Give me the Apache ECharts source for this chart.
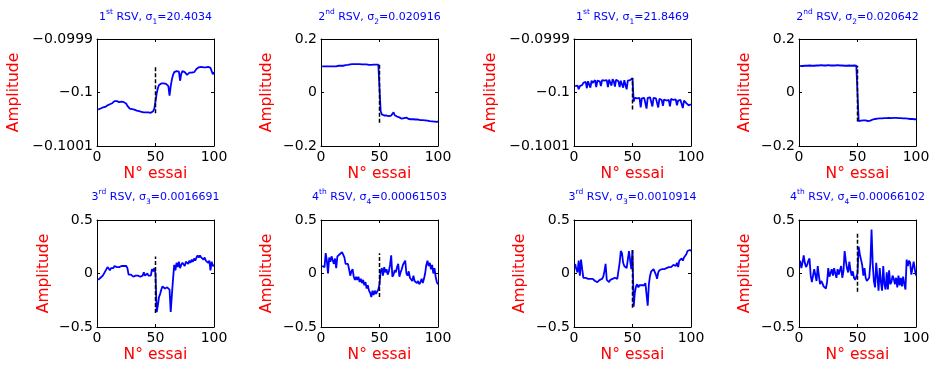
<!DOCTYPE html>
<html><head><meta charset="utf-8">
<script src="https://cdn.jsdelivr.net/npm/echarts@6/dist/echarts.min.js"></script>
<style>html,body{margin:0;padding:0;background:#fff}#c{width:933px;height:371px}</style>
</head><body><div id="c"></div>
<script>
// ---------- DATA ----------
const trials = Array.from({length: 100}, (_, i) => i + 1);
const xTickLabels = ['0', '50', '100'];

const rsv1a = [
-0.100032,-0.100031,-0.100030,-0.100029,-0.100028,-0.100027,-0.100027,-0.100025,-0.100024,-0.100025,
-0.100022,-0.100021,-0.100020,-0.100017,-0.100016,-0.100015,-0.100016,-0.100017,-0.100018,-0.100018,
-0.100017,-0.100019,-0.100018,-0.100019,-0.100021,-0.100025,-0.100028,-0.100030,-0.100030,-0.100031,
-0.100032,-0.100032,-0.100033,-0.100034,-0.100035,-0.100035,-0.100035,-0.100036,-0.100037,-0.100037,
-0.100039,-0.100037,-0.100038,-0.100037,-0.100037,-0.100038,-0.100037,-0.100035,-0.100030,-0.100029,
-0.100002,-0.099992,-0.099986,-0.099984,-0.099983,-0.099983,-0.099983,-0.099983,-0.099984,-0.099985,
-0.099988,-0.100006,-0.099988,-0.099976,-0.099967,-0.099962,-0.099961,-0.099960,-0.099960,-0.099961,
-0.099978,-0.099965,-0.099960,-0.099960,-0.099962,-0.099964,-0.099967,-0.099964,-0.099963,-0.099964,
-0.099963,-0.099961,-0.099962,-0.099959,-0.099956,-0.099954,-0.099953,-0.099952,-0.099952,-0.099952,
-0.099953,-0.099952,-0.099953,-0.099953,-0.099952,-0.099953,-0.099954,-0.099955,-0.099966,-0.099962];

const rsv2a = [
0.098,0.099,0.098,0.099,0.098,0.099,0.098,0.097,0.098,0.099,
0.098,0.099,0.098,0.099,0.100,0.099,0.100,0.101,0.100,0.101,
0.102,0.102,0.103,0.104,0.105,0.106,0.106,0.105,0.106,0.107,
0.106,0.105,0.106,0.105,0.105,0.104,0.105,0.104,0.105,0.104,
0.103,0.104,0.103,0.104,0.104,0.103,0.104,0.103,0.104,0.103,
-0.070,-0.082,-0.085,-0.086,-0.087,-0.086,-0.087,-0.088,-0.087,-0.086,
-0.082,-0.074,-0.085,-0.088,-0.090,-0.092,-0.093,-0.094,-0.098,-0.100,
-0.096,-0.091,-0.094,-0.097,-0.099,-0.100,-0.100,-0.101,-0.100,-0.101,
-0.101,-0.102,-0.101,-0.102,-0.103,-0.102,-0.103,-0.104,-0.104,-0.105,
-0.105,-0.106,-0.107,-0.107,-0.108,-0.109,-0.109,-0.110,-0.110,-0.108];

const rsv1b = [
-0.099988,-0.099990,-0.099987,-0.099994,-0.099988,-0.099985,-0.099986,-0.099982,-0.099984,-0.099980,
-0.099992,-0.099979,-0.099981,-0.099991,-0.099978,-0.099982,-0.099979,-0.099977,-0.099990,-0.099978,
-0.099976,-0.099979,-0.099988,-0.099977,-0.099975,-0.099978,-0.099976,-0.099977,-0.099990,-0.099976,
-0.099977,-0.099987,-0.099975,-0.099979,-0.099989,-0.099976,-0.099977,-0.099979,-0.099990,-0.099978,
-0.099976,-0.099991,-0.099977,-0.099980,-0.099994,-0.099978,-0.099975,-0.099977,-0.099974,-0.099973,
-0.100017,-0.100010,-0.100009,-0.100011,-0.100008,-0.100010,-0.100028,-0.100011,-0.100009,-0.100010,
-0.100012,-0.100030,-0.100010,-0.100011,-0.100009,-0.100012,-0.100026,-0.100010,-0.100012,-0.100011,
-0.100013,-0.100028,-0.100012,-0.100011,-0.100014,-0.100025,-0.100013,-0.100012,-0.100015,-0.100013,
-0.100014,-0.100026,-0.100012,-0.100015,-0.100014,-0.100016,-0.100013,-0.100024,-0.100015,-0.100017,
-0.100014,-0.100016,-0.100029,-0.100015,-0.100017,-0.100020,-0.100018,-0.100024,-0.100021,-0.100022];

const rsv2b = [
0.099,0.100,0.099,0.101,0.100,0.099,0.100,0.100,0.101,0.100,
0.100,0.101,0.100,0.101,0.101,0.100,0.101,0.101,0.102,0.101,
0.101,0.102,0.101,0.101,0.102,0.102,0.101,0.102,0.101,0.102,
0.101,0.101,0.102,0.101,0.101,0.100,0.101,0.101,0.100,0.101,
0.100,0.100,0.101,0.100,0.100,0.100,0.101,0.100,0.100,0.100,
-0.107,-0.106,-0.105,-0.105,-0.104,-0.104,-0.104,-0.105,-0.107,-0.109,
-0.105,-0.102,-0.101,-0.100,-0.099,-0.098,-0.098,-0.097,-0.097,-0.097,
-0.097,-0.097,-0.096,-0.096,-0.096,-0.096,-0.095,-0.096,-0.096,-0.095,
-0.095,-0.096,-0.095,-0.095,-0.096,-0.096,-0.096,-0.097,-0.097,-0.097,
-0.097,-0.098,-0.098,-0.098,-0.099,-0.099,-0.099,-0.100,-0.100,-0.100];

const rsv3a = [
-0.06,-0.05,-0.04,-0.03,-0.02,-0.01,0.02,0.01,0.06,0.07,
0.03,0.05,0.06,0.05,0.07,0.06,0.06,0.07,0.06,0.06,
0.07,0.06,0.07,0.06,0.07,0.05,-0.01,-0.02,-0.01,-0.02,
-0.03,-0.02,-0.02,-0.03,-0.02,-0.02,-0.03,-0.02,-0.02,0.01,
-0.02,-0.03,0.00,-0.02,-0.01,-0.02,0.04,0.02,0.05,0.00,
-0.36,-0.30,-0.22,-0.19,-0.15,-0.12,-0.13,-0.14,-0.15,-0.13,
-0.12,-0.15,-0.36,-0.20,-0.05,0.08,0.03,0.10,0.06,0.11,
0.05,0.08,0.10,0.09,0.07,0.11,0.12,0.09,0.12,0.10,
0.13,0.11,0.14,0.12,0.15,0.17,0.15,0.17,0.15,0.16,
0.13,0.15,0.12,0.13,0.10,0.12,0.03,0.11,0.07,0.08];

const rsv4a = [
0.07,0.08,0.06,0.19,0.12,0.00,0.15,0.11,0.16,0.17,
0.09,0.14,0.05,0.16,0.15,0.18,0.18,0.20,0.19,0.15,
0.09,0.08,0.09,0.04,-0.02,0.02,0.04,-0.03,-0.06,-0.03,
-0.06,-0.03,-0.08,-0.05,-0.09,-0.06,-0.11,-0.08,-0.14,-0.11,
-0.16,-0.18,-0.22,-0.16,-0.20,-0.16,-0.19,-0.20,-0.15,-0.10,
0.02,0.05,-0.02,0.06,0.01,0.04,-0.01,0.02,0.08,0.17,
-0.03,-0.01,0.03,0.01,0.06,0.09,-0.03,0.01,0.04,0.08,
0.10,0.12,0.00,-0.02,0.02,-0.04,-0.03,-0.07,-0.02,-0.07,
-0.06,-0.09,-0.07,-0.10,-0.08,-0.05,-0.09,-0.05,0.00,0.08,
0.12,0.07,0.10,0.04,0.08,0.00,0.05,-0.03,-0.08,-0.10];

const rsv3b = [
0.09,0.04,0.01,0.12,-0.02,0.13,0.04,-0.04,-0.05,-0.04,
-0.03,-0.05,-0.04,-0.05,-0.04,-0.05,-0.05,-0.07,-0.08,-0.08,
-0.07,-0.06,-0.05,-0.05,-0.03,0.02,0.09,-0.06,-0.07,-0.08,
-0.06,-0.05,-0.05,-0.05,-0.04,-0.05,-0.05,-0.04,0.10,0.21,
0.19,0.10,0.07,0.06,0.05,0.04,0.21,0.12,0.04,0.22,
-0.31,-0.18,-0.12,-0.10,-0.13,-0.11,-0.10,-0.11,-0.10,-0.11,
-0.09,-0.10,-0.30,-0.10,-0.02,0.02,0.03,0.04,0.04,-0.01,
-0.05,0.01,0.03,0.04,0.04,0.05,0.04,0.05,0.05,0.05,
0.06,0.05,0.06,0.07,0.08,0.09,0.07,0.10,0.06,0.12,
0.11,0.14,0.12,0.15,0.14,0.18,0.21,0.20,0.22,0.21];

const rsv4b = [
0.12,0.05,0.10,0.17,0.10,0.06,0.08,0.12,0.14,-0.02,
-0.08,-0.07,0.04,0.05,-0.07,0.07,-0.02,-0.10,-0.07,-0.09,
-0.12,-0.13,-0.14,-0.08,0.05,-0.03,-0.04,0.04,-0.02,0.05,
0.00,-0.04,0.04,-0.01,-0.02,0.07,-0.04,0.02,0.21,0.12,
0.05,0.01,0.11,0.03,-0.02,0.02,-0.04,-0.06,-0.03,0.00,
0.25,0.18,0.13,0.08,-0.02,0.05,-0.04,-0.07,-0.08,-0.04,
0.10,0.41,0.09,-0.07,-0.13,0.10,-0.03,-0.16,0.05,-0.08,
-0.16,0.07,-0.10,-0.15,0.01,-0.15,0.03,-0.10,-0.08,-0.02,
-0.05,-0.10,-0.04,-0.13,-0.02,-0.11,-0.04,-0.12,-0.03,-0.10,
-0.15,0.13,0.07,0.12,0.10,-0.01,0.05,0.11,0.04,-0.02];

const panelValues = [rsv1a, rsv2a, rsv1b, rsv2b, rsv3a, rsv4a, rsv3b, rsv4b];

// vertical dashed marker at trial 50: [low, high]
const markerTrial = 50;
const markerRanges = [
  [-0.1000390, -0.0999525], [-0.113, 0.104], [-0.100032, -0.099973], [-0.108, 0.100],
  [-0.37, 0.16], [-0.22, 0.19], [-0.32, 0.22], [-0.17, 0.38]];

const ordinalNum = ['1', '2', '1', '2', '3', '4', '3', '4'];
const ordinalSuffix = ['st', 'nd', 'st', 'nd', 'rd', 'th', 'rd', 'th'];
const sigmaIndex = ['1', '2', '1', '2', '3', '4', '3', '4'];
const sigmaValue = ['20.4034', '0.020916', '21.8469', '0.020642', '0.0016691', '0.00061503', '0.0010914', '0.00066102'];

const yTicksA = [-0.1001, -0.1, -0.0999];
const yTickLabelsA = ['\u22120.1001', '\u22120.1', '\u22120.0999'];
const yTicksB = [-0.2, 0, 0.2];
const yTickLabelsB = ['\u22120.2', '0', '0.2'];
const yTicksC = [-0.5, 0, 0.5];
const yTickLabelsC = ['\u22120.5', '0', '0.5'];
const panelYTicks = [yTicksA, yTicksB, yTicksA, yTicksB, yTicksC, yTicksC, yTicksC, yTicksC];
const panelYLabels = [yTickLabelsA, yTickLabelsB, yTickLabelsA, yTickLabelsB, yTickLabelsC, yTickLabelsC, yTickLabelsC, yTickLabelsC];

// ---------- LAYOUT ----------
const colLeft = [97, 321, 574, 799];
const rowTop = [39, 220];
const titleTop = [8, 188];
const W = 117, H = 107;
const yNameGap = [75, 46, 75, 46, 45, 46, 46, 46];
const FONT = 'DejaVu Sans';

const grids = [], xAxes = [], yAxes = [], series = [], titles = [];
panelValues.forEach((vals, k) => {
  const r = Math.floor(k / 4), c = k % 4;
  const left = colLeft[c], top = rowTop[r];
  grids.push({left: left, top: top, width: W, height: H, containLabel: false, outerBoundsMode: 'none'});
  const tv = panelYTicks[k], tl = panelYLabels[k];
  const fmt = v => { const j = tv.findIndex(t => Math.abs(t - v) < 1e-9); return j < 0 ? '' : tl[j]; };
  const xfmt = v => { const j = [0, 50, 100].indexOf(Math.round(v)); return j < 0 ? '' : xTickLabels[j]; };
  const line = {show: true, onZero: false, lineStyle: {color: '#000', width: 1}};
  const tick = {show: true, inside: true, length: 3, lineStyle: {color: '#000', width: 1}};
  xAxes.push({
    type: 'value', gridIndex: k, position: 'bottom', min: 0, max: 100, interval: 50,
    axisLine: line, axisTick: tick, splitLine: {show: false},
    axisLabel: {margin: 4, color: '#000', fontSize: 14, fontFamily: FONT, formatter: xfmt},
    name: 'N\u00b0 essai', nameLocation: 'middle', nameGap: 20, nameMoveOverlap: false,
    nameTextStyle: {color: '#ff0000', fontSize: 15.5, fontFamily: FONT}
  });
  xAxes.push({
    type: 'value', gridIndex: k, position: 'top', min: 0, max: 100, interval: 50,
    axisLine: line, axisTick: tick, splitLine: {show: false}, axisLabel: {show: false}
  });
  yAxes.push({
    type: 'value', gridIndex: k, position: 'left', min: tv[0], max: tv[2],
    axisLine: line, axisTick: Object.assign({}, tick, {customValues: tv}), splitLine: {show: false},
    axisLabel: {customValues: tv, formatter: fmt, margin: 4, color: '#000', fontSize: 14, fontFamily: FONT},
    name: 'Amplitude', nameLocation: 'middle', nameGap: yNameGap[k], nameMoveOverlap: false,
    nameTextStyle: {color: '#ff0000', fontSize: 15.5, fontFamily: FONT}
  });
  yAxes.push({
    type: 'value', gridIndex: k, position: 'right', min: tv[0], max: tv[2],
    axisLine: line, axisTick: Object.assign({}, tick, {customValues: tv}), splitLine: {show: false},
    axisLabel: {show: false}
  });
  series.push({
    type: 'line', xAxisIndex: 2 * k, yAxisIndex: 2 * k, symbol: 'none', silent: true,
    data: trials.map((t, j) => [t, vals[j]]),
    lineStyle: {color: '#0000ff', width: 1.8}, z: 3
  });
  series.push({
    type: 'line', xAxisIndex: 2 * k, yAxisIndex: 2 * k, symbol: 'none', silent: true,
    data: [[markerTrial, markerRanges[k][0]], [markerTrial, markerRanges[k][1]]],
    lineStyle: {color: '#000', width: 1.5, type: [4, 2]}, z: 4
  });
  const base = {fontSize: 11, fontFamily: FONT, color: '#0000ff', fontWeight: 'normal', lineHeight: 18, verticalAlign: 'middle'};
  titles.push({
    left: left + W / 2, top: titleTop[r], textAlign: 'center', padding: 0,
    text: '{n|' + ordinalNum[k] + '}{s|' + ordinalSuffix[k] + '}{n| RSV, \u03c3}{b|' + sigmaIndex[k] + '}{n|=' + sigmaValue[k] + '}',
    textStyle: {
      fontFamily: FONT, fontWeight: 'normal', color: '#0000ff', fontSize: 11,
      rich: {
        n: base,
        s: {fontSize: 7.5, fontFamily: FONT, color: '#0000ff', fontWeight: 'normal', lineHeight: 10, verticalAlign: 'top'},
        b: {fontSize: 7.5, fontFamily: FONT, color: '#0000ff', fontWeight: 'normal', lineHeight: 10, verticalAlign: 'bottom'}
      }
    }
  });
});

const chart = echarts.init(document.getElementById('c'), null, {renderer: 'canvas'});
chart.setOption({
  animation: false,
  backgroundColor: '#ffffff',
  textStyle: {fontFamily: FONT},
  title: titles,
  grid: grids,
  xAxis: xAxes,
  yAxis: yAxes,
  series: series
});
</script></body></html>
